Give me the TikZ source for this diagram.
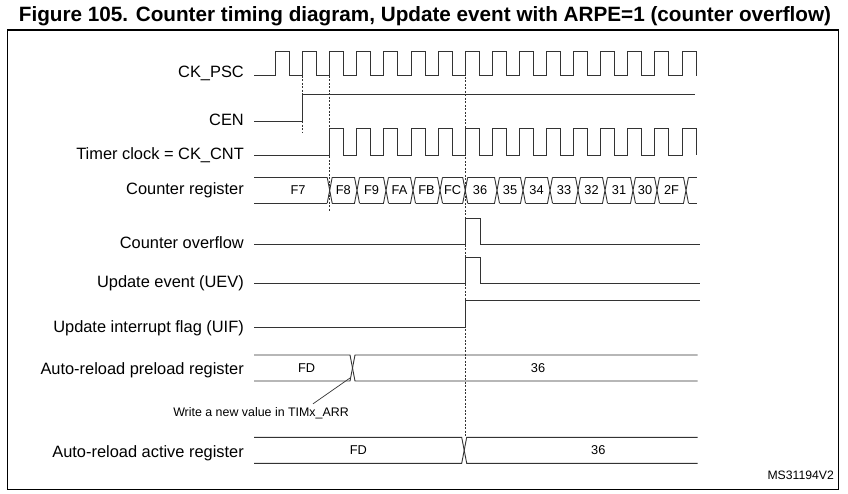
\documentclass[tikz,border=0pt]{standalone}
\usepackage{fontspec}
\setmainfont{Liberation Sans}

\tikzset{
  sig/.style={line width=0.9pt, draw=black!80},
  guide/.style={line width=0.7pt, draw=black!80, dash pattern=on 2pt off 1.5pt},
  lbl/.style={anchor=base east, inner sep=0pt, font=\fontsize{16.4}{19}\selectfont},
  val/.style={inner sep=0pt, font=\fontsize{12.8}{14}\selectfont},
}

\begin{document}
\begin{tikzpicture}[x=1pt, y=-1pt]
    \useasboundingbox (0,0) rectangle (848,494);

    % Title and frame
    \node[anchor=base, inner sep=0pt, font=\bfseries\fontsize{20.7}{24}\selectfont] (title) at (425,22)
        {Figure 105. Counter timing diagram, Update event with ARPE=1 (counter overflow)};
    \draw[line width=1.3pt] (7.5,30) rectangle (838.5,489.3);

    % Signal names
    \node[lbl] (ckpsc) at (244,78) {CK\_PSC};
    \node[lbl] (cen) at (244,125.4) {CEN};
    \node[lbl] (ckcnt) at (244,159.4) {Timer clock = CK\_CNT};
    \node[lbl] (cntreg) at (244,194.9) {Counter register};
    \node[lbl] (ovf) at (244,248.9) {Counter overflow};
    \node[lbl] (uev) at (244,287.9) {Update event (UEV)};
    \node[lbl] (uif) at (244,332.4) {Update interrupt flag (UIF)};
    \node[lbl] (arrpre) at (244,374.5) {Auto-reload preload register};
    \node[lbl] (arract) at (244,457) {Auto-reload active register};

    % Prescaler clock
    \draw[sig] (254,75.7) foreach \k in {0,...,15} {
        -- ({275.5+27.1*\k},75.7) -- ++(0,-24.7) -- ++(14,0) -- ++(0,24.7) };

    % Counter enable
    \draw[sig] (254,121) -- (302.6,121) -- (302.6,94.3) -- (695,94.3);

    % Counter clock (starts after CEN)
    \draw[sig] (254,155) foreach \k in {2,...,15} {
        -- ({275.5+27.1*\k},155) -- ++(0,-26.7) -- ++(14,0) -- ++(0,26.7) };

    % Counter register bus
    \foreach \a/\b in {251.5/329.7, 329.7/357, 357/386, 386/413, 413/440, 440/465.2, 465.2/497,
                       497/523, 523/550, 550/578, 578/605, 605/633, 633/657, 657/686, 686/699.5}
        {
            \draw[sig] (\a+2.5,177.3) -- (\b-2.5,177.3) (\a+2.5,203.3) -- (\b-2.5,203.3);
        }
    \foreach \c in {329.7, 357, 386, 413, 440, 465.2, 497, 523, 550, 578, 605, 633, 657, 686}
        {
            \draw[sig] (\c-2.5,177.3) -- (\c+2.5,203.3) (\c-2.5,203.3) -- (\c+2.5,177.3);
        }
    \foreach \x/\v in {298/F7, 343.3/F8, 371.5/F9, 399.5/FA, 426.5/FB, 452.6/FC, 480/36, 510/35,
                       536.5/34, 564/33, 591.5/32, 619/31, 645/30, 671.5/2F}
        {
            \node[val] (cnt\v) at (\x,190.3) {\v};
        }

    % Overflow, update event and interrupt flag
    \draw[sig] (254,244.3) -- (465.2,244.3) -- (465.2,218.3) -- (480,218.3) -- (480,244.3) -- (700,244.3);
    \draw[sig] (254,283.3) -- (465.2,283.3) -- (465.2,257.7) -- (480,257.7) -- (480,283.3) -- (700,283.3);
    \draw[sig] (254,327.3) -- (465.2,327.3) -- (465.2,300.7) -- (700,300.7);

    % Auto-reload preload register
    \draw[sig] (254,355) -- (350,355) -- (355,381) -- (697.7,381);
    \draw[sig] (254,381) -- (350,381) -- (355,355) -- (697.7,355);
    \node[val] (preFD) at (306.7,368) {FD};
    \node[val] (pre36) at (538,368) {36};

    % Auto-reload active register
    \draw[sig] (254,437.3) -- (461.7,437.3) -- (466.7,463.3) -- (697.7,463.3);
    \draw[sig] (254,463.3) -- (461.7,463.3) -- (466.7,437.3) -- (697.7,437.3);
    \node[val] (actFD) at (358.3,450.3) {FD};
    \node[val] (act36) at (598.3,450.3) {36};

    % Write annotation
    \node[anchor=base, inner sep=0pt, font=\fontsize{12.4}{14}\selectfont] (arrnote) at (261,416)
        {Write a new value in TIMx\_ARR};
    \coordinate (wr) at (350,378);
    \draw[line width=0.7pt, draw=black!80] ([xshift=52pt, yshift=3pt]arrnote.north) -- (wr);

    % Dashed reference lines
    \draw[guide] (302.6,75.7) -- (302.6,132);
    \draw[guide] (329.7,75.7) -- (329.7,212);
    \draw[guide] (465.2,70) -- (465.2,437.3);

    \node[anchor=base east, inner sep=0pt, font=\fontsize{12.2}{14}\selectfont] (docref) at (834,479.4) {MS31194V2};

\end{tikzpicture}
\end{document}
